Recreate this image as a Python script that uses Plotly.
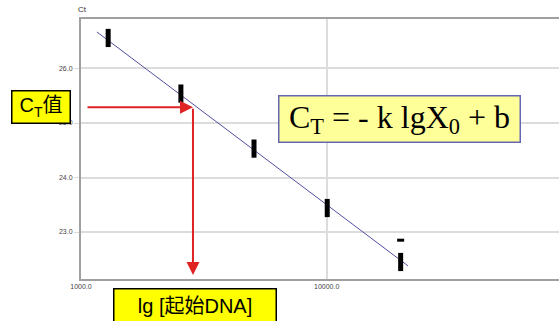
import math
import plotly.graph_objects as go

# ---- data ----
start_dna = [1290, 2550, 5060, 10050, 20000]      # starting copies (log axis)
ct_values = [26.56, 25.54, 24.53, 23.44, 22.45]   # Ct of replicates (bar centre)
outlier_x = [20000]
outlier_ct = [22.85]
fit_x = [1161, 21410]
fit_ct = [26.67, 22.38]
ct_read = 25.29          # Ct value
x_read = 2856            # corresponding starting quantity
x_arrow_start = 1048
ct_arrow_end = 22.21
y_ticks = [23, 24, 25, 26]
y_ticklabels = ["23.0", "24.0", "25.0", "26.0"]
x_ticks = [1000, 10000]
x_ticklabels = ["1000.0", "10000.0"]

W, H = 559, 321
L_ABS, T_ABS, R_ABS, B_ABS = 81, 19, 559, 279
PW, PH = R_ABS - L_ABS, B_ABS - T_ABS

def px(x):
    return (x - L_ABS) / PW

def py(y):
    return (B_ABS - y) / PH

fig = go.Figure()
fig.add_trace(go.Scatter(x=fit_x, y=fit_ct, mode="lines",
                         line=dict(color="#4f4f9e", width=1), hoverinfo="skip"))
fig.add_trace(go.Scatter(x=start_dna, y=ct_values, mode="markers",
                         marker=dict(symbol="line-ns", size=13,
                                     line=dict(color="black", width=5))))
fig.add_trace(go.Scatter(x=outlier_x, y=outlier_ct, mode="markers",
                         marker=dict(symbol="line-ew", size=5,
                                     line=dict(color="black", width=3))))

red = "#e02424"
fig.add_annotation(x=math.log10(x_read), y=ct_read, ax=math.log10(x_arrow_start), ay=ct_read,
                   xref="x", yref="y", axref="x", ayref="y", text="", showarrow=True,
                   arrowhead=2, arrowsize=1.3, arrowwidth=2, arrowcolor=red)
fig.add_annotation(x=math.log10(x_read), y=ct_arrow_end, ax=math.log10(x_read), ay=ct_read,
                   xref="x", yref="y", axref="x", ayref="y", text="", showarrow=True,
                   arrowhead=2, arrowsize=1.3, arrowwidth=2, arrowcolor=red)

fig.add_annotation(x=px(82), y=py(10), xref="paper", yref="paper", text="Ct",
                   xanchor="center", yanchor="middle",
                   showarrow=False, font=dict(family="Liberation Sans", size=8, color="#333"))

fig.add_annotation(x=px(40.5), y=py(106.5), xref="paper", yref="paper",
                   xanchor="center", yanchor="middle",
                   text="C<sub>T</sub>值", showarrow=False, width=57, height=31,
                   bgcolor="#ffff00", bordercolor="black", borderwidth=1.5, borderpad=0,
                   font=dict(family="Liberation Sans, Noto Sans CJK SC", size=20, color="black"))
fig.add_annotation(x=px(194.5), y=py(305), xref="paper", yref="paper",
                   xanchor="center", yanchor="middle",
                   text="lg [起始DNA]", showarrow=False, width=161, height=32,
                   bgcolor="#ffff00", bordercolor="black", borderwidth=1.5, borderpad=0,
                   font=dict(family="Liberation Sans, Noto Sans CJK SC", size=20, color="black"))
fig.add_annotation(x=px(399), y=py(119.5), xref="paper", yref="paper",
                   xanchor="center", yanchor="middle",
                   text="C<sub>T</sub> = - k lgX<sub>0</sub> + b", showarrow=False,
                   width=240, height=45,
                   bgcolor="#ffff99", bordercolor="#6666b0", borderwidth=1.5, borderpad=0,
                   font=dict(family="Liberation Serif", size=32, color="black"))

fig.update_layout(
    width=W, height=H,
    margin=dict(l=L_ABS, r=W - R_ABS, t=T_ABS, b=H - B_ABS),
    paper_bgcolor="white", plot_bgcolor="white", showlegend=False,
    xaxis=dict(type="log", range=[3.0, 3 + PW / 245.7], tickvals=x_ticks, ticktext=x_ticklabels,
               showgrid=True, gridcolor="#dcdcdc", gridwidth=1.5, zeroline=False,
               showline=True, linecolor="#a0a0a0", linewidth=2, mirror=True,
               ticks="", tickfont=dict(family="Liberation Sans", size=7, color="#444")),
    yaxis=dict(range=[22.138, 26.908], tickvals=y_ticks, ticktext=y_ticklabels,
               showgrid=True, gridcolor="#dcdcdc", gridwidth=1.5, zeroline=False,
               showline=True, linecolor="#a0a0a0", linewidth=2,
               ticks="outside", ticklen=5, tickcolor="#dcdcdc",
               tickfont=dict(family="Liberation Sans", size=7, color="#444")),
)

fig.write_html(
    "out.html",
    config={"displayModeBar": False},
    post_script="document.body.style.margin='0';document.body.style.overflow='hidden';",
)
